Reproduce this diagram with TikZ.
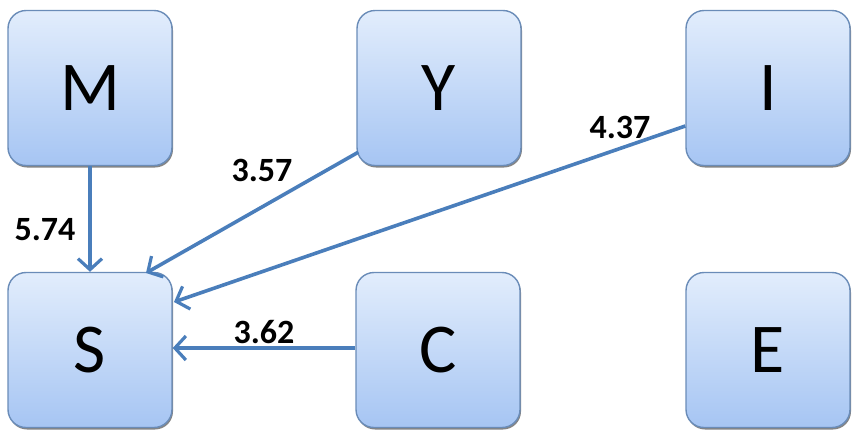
\documentclass[tikz,border=0pt]{standalone}
\usepackage{fontspec}
\setmainfont{Carlito}
\usetikzlibrary{arrows.meta,shadows}
\definecolor{boxtop}{HTML}{E2EDFC}
\definecolor{boxbot}{HTML}{A6C5F3}
\definecolor{boxline}{HTML}{6A8CB8}
\definecolor{arr}{HTML}{4A7EBB}
\tikzset{
  nbox/.style={draw=boxline, line width=1.4pt, rounded corners=18pt, top color=boxtop, bottom color=boxbot,
    minimum width=164pt, minimum height=155pt, inner sep=0pt, font=\fontsize{70}{70}\selectfont,
    drop shadow={shadow xshift=1pt, shadow yshift=-2pt, opacity=0.6, fill=black!80}},
  conn/.style={draw=arr, line width=3.6pt, -{Straight Barb[length=11pt,width=24pt,line width=3.2pt]}},
  lab/.style={font=\fontsize{34}{34}\selectfont\bfseries, text=black}
}
\begin{document}
\begin{tikzpicture}[x=1pt,y=-1pt]
\useasboundingbox (0,0) rectangle (853,432);
\node[nbox] (M) at (90,88) {M};
\node[nbox] (Y) at (439,88) {Y};
\node[nbox] (I) at (768,88) {I};
\node[nbox] (S) at (90,350) {S};
\node[nbox] (C) at (438,350) {C};
\node[nbox] (E) at (768,350) {E};
\coordinate (yend) at (146,273);
\coordinate (iend) at (174,302);
\draw[conn] (M.south) -- (S.north);
\draw[conn] (Y.south west) ++(2,-14) -- (yend);
\draw[conn] (I.west |- 0,126) -- (iend);
\draw[conn] (C.west) ++(0,-2) -- (S.east |- 0,348);
\node[lab] (l1) at (45,230) {5.74};
\node[lab] (l2) at (262,170) {3.57};
\node[lab] (l3) at (620,127) {4.37};
\node[lab] (l4) at (264,332) {3.62};
\end{tikzpicture}
\end{document}
